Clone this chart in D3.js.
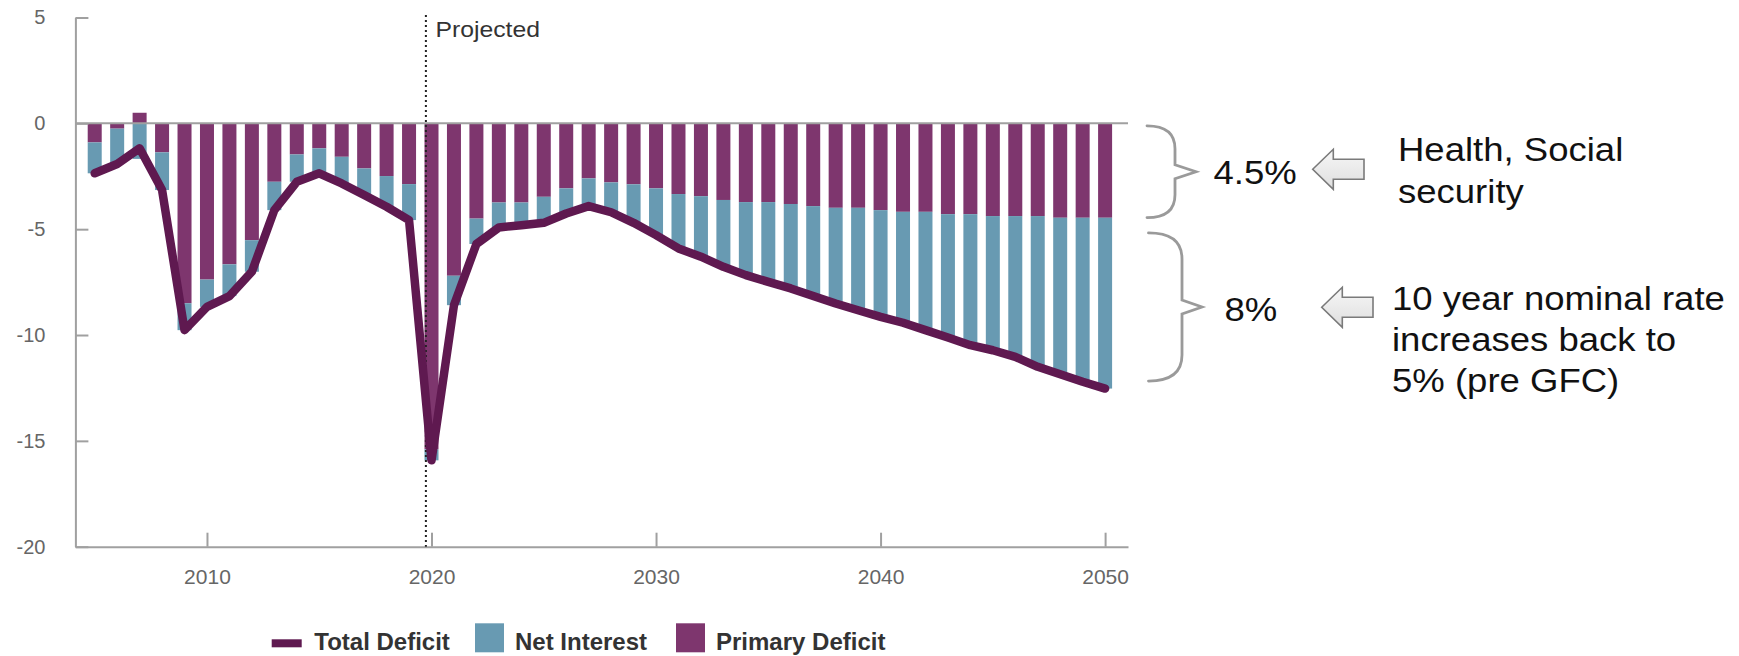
<!DOCTYPE html>
<html><head><meta charset="utf-8">
<script src="https://cdn.jsdelivr.net/npm/d3@7"></script>
<style>
html,body{margin:0;padding:0;background:#fff;}
svg{display:block;font-family:"Liberation Sans",Arial,Helvetica,sans-serif;}
</style></head><body>
<svg id="chart" width="1739" height="656"></svg>
<script>
// ---- data ----
const years = [2005,2006,2007,2008,2009,2010,2011,2012,2013,2014,2015,2016,2017,2018,2019,
  2020,2021,2022,2023,2024,2025,2026,2027,2028,2029,2030,2031,2032,2033,2034,2035,2036,2037,
  2038,2039,2040,2041,2042,2043,2044,2045,2046,2047,2048,2049,2050];
const primaryDeficit = [-0.9,-0.25,0.5,-1.37,-8.5,-7.38,-6.66,-5.52,-2.76,-1.47,-1.18,-1.58,-2.13,-2.49,-2.87,
  -15.4,-7.2,-4.5,-3.74,-3.74,-3.47,-3.07,-2.6,-2.79,-2.88,-3.07,-3.34,-3.44,-3.62,-3.72,-3.72,-3.81,-3.91,
  -3.99,-3.99,-4.10,-4.18,-4.18,-4.29,-4.29,-4.38,-4.38,-4.38,-4.46,-4.46,-4.46];
const netInterest = [-1.46,-1.67,-1.68,-1.78,-1.27,-1.29,-1.5,-1.49,-1.34,-1.29,-1.18,-1.26,-1.26,-1.45,-1.7,
  -0.52,-1.39,-1.2,-1.18,-1.07,-1.23,-1.19,-1.31,-1.41,-1.82,-2.21,-2.57,-2.86,-3.16,-3.45,-3.77,-3.99,-4.25,
  -4.52,-4.84,-5.04,-5.24,-5.59,-5.83,-6.19,-6.34,-6.65,-7.12,-7.39,-7.75,-8.07];
const totalDeficit = [-2.36,-1.92,-1.18,-3.15,-9.77,-8.67,-8.16,-7.01,-4.1,-2.76,-2.36,-2.84,-3.39,-3.94,-4.57,
  -15.92,-8.59,-5.7,-4.92,-4.81,-4.7,-4.26,-3.91,-4.2,-4.7,-5.28,-5.91,-6.3,-6.78,-7.17,-7.49,-7.8,-8.16,
  -8.51,-8.83,-9.14,-9.42,-9.77,-10.12,-10.48,-10.72,-11.03,-11.5,-11.85,-12.21,-12.53];
const yTicks = [5,0,-5,-10,-15,-20];
const xTicks = [2010,2020,2030,2040,2050];
const legendLabels = ["Total Deficit","Net Interest","Primary Deficit"];
const projectedLabel = "Projected";
const projectionStart = 2019.75;
const shareLabels = ["4.5%","8%"];
const noteUpper = ["Health, Social","security"];
const noteLower = ["10 year nominal rate","increases back to","5% (pre GFC)"];
const braceRanges = [[0,-4.5],[-5.2,-12.15]];

// ---- styles ----
const C = {primary:"#7e366e", interest:"#689ab2", total:"#5f1950", axis:"#a0a0a0", tick:"#666"};

const svg = d3.select("#chart");
svg.append("rect").attr("width",1739).attr("height",656).attr("fill","#fff");

const x = d3.scaleLinear().domain([2004.14, 2051.02]).range([75.4, 1128]);
const y = d3.scaleLinear().domain([-20, 5]).range([546.7, 17.5]);
const bw = 14;

const data = years.map((yr,i)=>({year:yr, primary:primaryDeficit[i], interest:netInterest[i], total:totalDeficit[i]}));
const series = d3.stack().keys(["primary","interest"]).offset(d3.stackOffsetDiverging)(data);

// bars
svg.append("g").selectAll("g").data(series).join("g")
  .attr("fill", d=>C[d.key])
  .selectAll("rect").data(d=>d).join("rect")
  .attr("x", d=>x(d.data.year)-bw/2).attr("width", bw)
  .attr("y", d=>y(Math.max(d[0],d[1])))
  .attr("height", d=>Math.abs(y(d[0])-y(d[1])));

// axes
const yAxis = svg.append("g").attr("transform",`translate(${x.range()[0]},0)`)
  .call(d3.axisLeft(y).tickValues(yTicks).tickFormat(d=>String(d)).tickSizeInner(-13).tickSizeOuter(0).tickPadding(30));
const xAxis = svg.append("g").attr("transform",`translate(0,${y(-20)})`)
  .call(d3.axisBottom(x).tickValues(xTicks).tickFormat(d=>String(d)).tickSizeInner(-14).tickSizeOuter(0).tickPadding(22));
[yAxis,xAxis].forEach(g=>{
  g.select(".domain").attr("stroke",C.axis).attr("stroke-width",2);
  g.selectAll(".tick line").attr("stroke",C.axis).attr("stroke-width",2);
  g.selectAll(".tick text").attr("fill",C.tick).attr("font-family","'Liberation Sans',Arial,sans-serif");
});
yAxis.selectAll(".tick text").attr("font-size",20);
xAxis.selectAll(".tick text").attr("font-size",21);

// zero line
svg.append("line").attr("x1",x.range()[0]).attr("x2",x.range()[1])
  .attr("y1",y(0)).attr("y2",y(0)).attr("stroke",C.axis).attr("stroke-width",2);

// projection divider
svg.append("line").attr("x1",x(projectionStart)).attr("x2",x(projectionStart))
  .attr("y1",15).attr("y2",y(-20)).attr("stroke","#222").attr("stroke-width",2)
  .attr("stroke-dasharray","2,3");
svg.append("text").attr("transform",`translate(${x(projectionStart)+9.5},36.5) scale(1.1,1)`)
  .attr("font-size",22.5).attr("fill","#333").text(projectedLabel);

// total line
svg.append("path").datum(data)
  .attr("fill","none").attr("stroke",C.total).attr("stroke-width",8.5)
  .attr("stroke-linejoin","round").attr("stroke-linecap","round")
  .attr("d", d3.line().x(d=>x(d.year)).y(d=>y(d.total)));

// legend
const lg = svg.append("g");
lg.append("rect").attr("x",271.7).attr("y",639.3).attr("width",30).attr("height",8).attr("fill",C.total);
lg.append("rect").attr("x",475).attr("y",623.3).attr("width",29).attr("height",29).attr("fill",C.interest);
lg.append("rect").attr("x",676).attr("y",623.3).attr("width",29).attr("height",29).attr("fill",C.primary);
[314.3,515,716].forEach((lx,i)=>{
  lg.append("text").attr("x",lx).attr("y",650).attr("font-size",24).attr("font-weight","bold")
    .attr("fill","#333").text(legendLabels[i]);
});

// annotations: braces
const br = svg.append("g").attr("fill","none").attr("stroke","#9a9a9a").attr("stroke-width",2.8).attr("stroke-linecap","round");
function brace(x0, xv, xt, y0, y1){
  const ym = (y0+y1)/2, r = Math.min(26,(y1-y0)/4);
  return `M${x0},${y0} Q${xv},${y0} ${xv},${y0+r} L${xv},${ym-7} L${xt},${ym} L${xv},${ym+7} L${xv},${y1-r} Q${xv},${y1} ${x0},${y1}`;
}
br.append("path").attr("d", brace(1147, 1175, 1196, y(braceRanges[0][0])+2.5, y(braceRanges[0][1])-1));
br.append("path").attr("d", brace(1148.5, 1182, 1202, y(braceRanges[1][0])-0.5, y(braceRanges[1][1])+0.5));

// arrows
const defs = svg.append("defs");
const gr = defs.append("linearGradient").attr("id","ag").attr("x1",0).attr("y1",0).attr("x2",0).attr("y2",1);
gr.append("stop").attr("offset","0%").attr("stop-color","#f7f7f7");
gr.append("stop").attr("offset","100%").attr("stop-color","#dedede");
function arrow(tx, ty){
  const pts = [[tx,ty],[tx+20.6,ty-20],[tx+20.6,ty-10],[tx+51.3,ty-10],[tx+51.3,ty+10],[tx+20.6,ty+10],[tx+20.6,ty+20]];
  svg.append("polygon").attr("points",pts.map(p=>p.join(",")).join(" "))
    .attr("fill","url(#ag)").attr("stroke","#7a7a7a").attr("stroke-width",1.6);
}
arrow(1312.7,169.3);
arrow(1321.7,307.3);

// annotation text
function ann(tx, ty, s){
  svg.append("text").attr("transform",`translate(${tx},${ty}) scale(1.12,1)`)
    .attr("font-size",32.6).attr("fill","#111").text(s);
}
ann(1213.5,184,shareLabels[0]);
ann(1224.5,320.5,shareLabels[1]);
noteUpper.forEach((s,i)=>ann(1398,161+i*41.5,s));
noteLower.forEach((s,i)=>ann(1392,310+i*41,s));
</script>
</body></html>
